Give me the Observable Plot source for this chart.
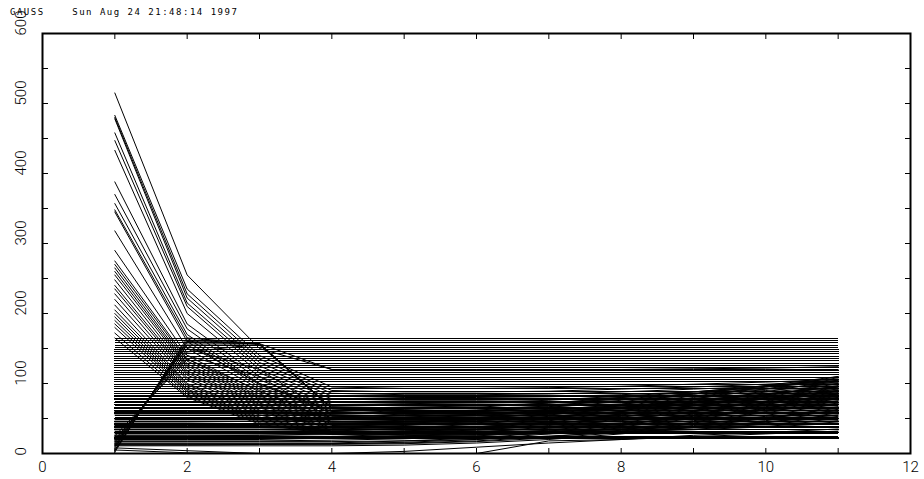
<!DOCTYPE html>
<html><head><meta charset="utf-8">
<script src="https://cdn.jsdelivr.net/npm/d3@7"></script>
<script src="https://cdn.jsdelivr.net/npm/@observablehq/plot@0.6"></script>
<style>
html,body{margin:0;padding:0;background:#fff;}
#title{height:16px;box-sizing:border-box;padding:8px 0 0 10px;font:9px/9px 'DejaVu Sans Mono',monospace;letter-spacing:1.5px;white-space:pre;color:#000;overflow:visible;}
#chart svg{overflow:visible;}
</style></head><body>
<div id="title">GAUSS    Sun Aug 24 21:48:14 1997</div>
<div id="chart"></div>
<script>
// x positions of every series
const xValues = [1,2,3,4,5,6,7,8,9,10,11];

// tick positions and labels
const xTicks = [1,2,3,4,5,6,7,8,9,10,11];
const yTicks = [50,100,150,200,250,300,350,400,450,500,550];
const xTickLabels = [0,2,4,6,8,10,12];
const yTickLabels = [0,100,200,300,400,500,600];

// series that stay level from x=1 to x=11
const flatLevels = [165,162,158,155,152,149,146,143,139,136,133,129,126,123,119,116,113,109,106,103,
  99,96,93,89,86,83,81,79,77,75,73,70,68,66,64,61,59,57,55,52,50,48,46,43,41,39,37,34,32,30,28,25,23,21];

// series that start high and fall
const declining = [
 [515,255,150,120,120,120,120,120,120,120,120],
 [483,235,140,95,93,93,94,96,99,102,106],
 [480,228,135,90,88,88,89,92,95,99,104],
 [478,222,130,86,84,84,85,88,92,96,101],
 [458,215,125,82,80,80,81,84,88,93,99],
 [447,210,120,78,76,76,77,80,85,90,97],
 [433,200,115,74,72,72,73,77,82,88,95],
 [388,185,110,70,68,68,70,74,79,86,93],
 [370,178,105,67,65,65,67,71,77,84,91],
 [357,170,100,64,62,62,64,68,74,81,89],
 [348,165,98,62,60,60,62,66,72,79,87],
 [345,160,95,60,58,58,60,64,70,77,85],
 [318,150,92,58,56,56,58,62,68,75,83],
 [290,140,88,55,54,54,56,60,66,73,81],
 [275,135,85,53,52,52,54,58,64,71,79],
 [270,132,82,51,50,50,52,56,62,69,77],
 [265,128,80,50,48,48,50,54,60,67,75],
 [260,125,78,48,47,47,49,53,58,65,73],
 [255,122,75,46,45,45,47,51,56,63,71],
 [248,118,72,44,43,43,45,49,54,61,69],
 [240,115,70,43,42,42,44,48,53,59,67],
 [235,112,68,42,41,41,43,46,51,57,65],
 [228,108,65,40,39,39,41,44,49,55,63],
 [220,105,62,38,37,37,39,42,47,53,61],
 [212,100,60,37,36,36,38,41,46,51,59],
 [205,98,58,36,35,35,37,40,44,49,57],
 [200,95,55,34,33,33,35,38,42,47,55],
 [195,92,52,32,31,31,33,36,40,45,53],
 [190,90,50,31,30,30,32,35,39,44,51],
 [185,88,48,30,29,29,31,34,38,42,49],
 [180,85,46,29,28,28,30,33,37,41,47],
 [172,82,44,28,27,27,29,32,35,39,45],
 [165,80,42,27,26,26,28,31,34,38,43]
];

// series that jump up at x=2 and fall back
const peaking = [
 [2,165,157,65,60,58,60,65,72,80,88],
 [5,160,157,65,62,60,62,66,74,82,92],
 [8,158,157,64,60,60,63,68,76,85,95],
 [10,155,155,64,58,56,60,66,75,84,96],
 [4,162,157,120,120,120,120,120,121,122,124],
 [12,155,100,60,55,55,58,64,72,80,90],
 [15,150,120,55,52,52,56,62,70,78,86],
 [18,145,156,65,60,58,60,64,70,78,85],
 [20,140,110,50,48,48,52,58,66,74,82],
 [25,135,90,45,44,45,50,56,64,72,80]
];

// series that are level early and climb later
const rising = [
 [15,15,15,15,18,22,30,40,55,70,85],
 [12,12,13,14,16,20,28,38,50,65,80],
 [20,20,20,22,25,30,38,48,60,75,95],
 [25,25,26,28,32,38,45,55,68,82,100],
 [30,30,30,32,36,42,50,60,72,88,105],
 [18,18,18,19,21,25,32,42,52,62,75],
 [22,22,22,24,28,34,42,52,62,72,90],
 [35,35,35,36,40,46,55,65,78,92,110],
 [40,40,40,42,45,50,58,68,80,95,108],
 [45,45,46,48,52,56,62,70,82,95,106],
 [50,50,50,52,55,60,66,74,85,97,110],
 [55,55,55,56,58,62,68,76,86,96,104],
 [60,60,60,61,63,66,72,80,88,97,103],
 [28,28,28,29,31,35,40,47,55,62,70],
 [32,32,32,33,35,38,44,50,58,66,75],
 [38,38,38,39,41,44,48,54,60,68,78],
 [14,14,14,14,15,18,24,32,42,52,60],
 [17,17,17,17,18,20,25,30,37,45,55],
 [24,24,24,24,25,27,30,35,42,50,65],
 [42,42,42,43,45,48,53,60,68,78,90],
 [48,48,48,49,51,54,59,66,74,84,96],
 [65,65,65,65,66,68,72,78,85,92,100],
 [70,70,70,70,71,73,76,82,88,96,102],
 [11,11,11,11,12,15,20,28,38,50,62],
 [13,13,13,13,14,17,22,30,45,60,72],
 [26,26,26,27,28,31,36,43,52,64,84]
];

// series near zero
const nearZero = [
 [8,4,0,0,3,9,15,20,26,30,35],
 [5,1,0,0,0,0,18,20,24,28,32]
];

const flatTable = flatLevels.flatMap((v, id) => xValues.map(x => ({id, x, y: v})));
const curves = [...declining, ...peaking, ...rising, ...nearZero];
const curveTable = curves.flatMap((s, id) => s.map((y, i) => ({id, x: xValues[i], y})));

const labelFont = "Roboto, 'Liberation Sans', sans-serif";

const chart = Plot.plot({
  width: 924, height: 463,
  marginTop: 17, marginBottom: 26, marginLeft: 42, marginRight: 14,
  x: {domain: [0, 12]},
  y: {domain: [0, 600]},
  style: {background: "white", color: "black", overflow: "visible"},
  marks: [
    Plot.line(flatTable, {x: "x", y: "y", z: "id", stroke: "black", strokeWidth: 1, shapeRendering: "crispEdges"}),
    Plot.line(curveTable, {x: "x", y: "y", z: "id", stroke: "black", strokeWidth: 1}),
    Plot.axisX(xTicks, {anchor: "bottom", tickSize: -5, fill: "none", label: null}),
    Plot.axisX(xTicks, {anchor: "top", tickSize: -5, fill: "none", label: null}),
    Plot.axisY(yTicks, {anchor: "left", tickSize: -6, fill: "none", label: null}),
    Plot.axisY(yTicks, {anchor: "right", tickSize: -6, fill: "none", label: null}),
    Plot.text(xTickLabels, {x: d => d, text: d => String(d), frameAnchor: "bottom", dy: 18, fontSize: 15, fontWeight: 300, fontFamily: labelFont, fill: "black"}),
    Plot.text(yTickLabels, {y: d => d, text: d => String(d), frameAnchor: "left", dx: -21, dy: 2, rotate: -90, fontSize: 15, fontWeight: 300, fontFamily: labelFont, fill: "black"}),
    Plot.frame({stroke: "black", strokeWidth: 2})
  ]
});
document.getElementById("chart").append(chart);
</script></body></html>
